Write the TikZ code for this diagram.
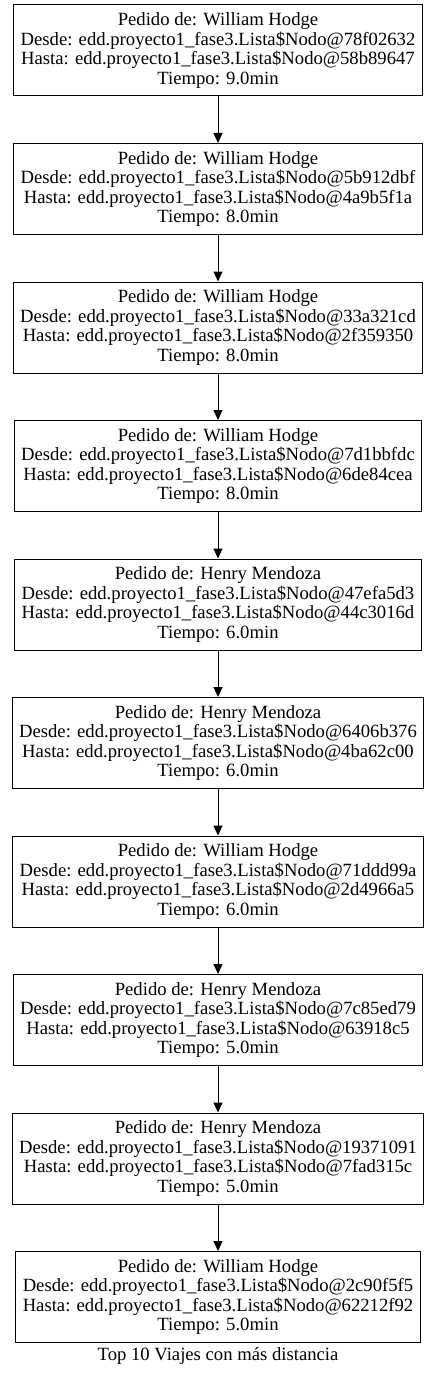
\documentclass[tikz,border=0pt]{standalone}
\usepackage{fontspec}
\usepackage{xcolor}
\usepackage{tikz}
\usetikzlibrary{arrows.meta}
\setmainfont{Liberation Serif}
\tikzset{tripbox/.style={draw, rectangle, line width=1pt, align=center, inner xsep=7pt, minimum height=91pt, font=\fontsize{18.67pt}{19.5pt}\selectfont}}
\tikzset{tripedge/.style={-{Triangle[length=10pt, width=9pt]}, line width=1pt}}

\begin{document}
\begin{tikzpicture}[x=1pt, y=1pt]%
\useasboundingbox (0, 0) rectangle (436, -1380);%
\node[tripbox] (v1) at (218, -50.5) {Pedido de: William Hodge\\Desde: edd.proyecto1\_fase3.Lista\$Nodo@78f02632\\Hasta: edd.proyecto1\_fase3.Lista\$Nodo@58b89647\\Tiempo: 9.0min};%
\node[tripbox] (v2) at (218, -189.0) {Pedido de: William Hodge\\Desde: edd.proyecto1\_fase3.Lista\$Nodo@5b912dbf\\Hasta: edd.proyecto1\_fase3.Lista\$Nodo@4a9b5f1a\\Tiempo: 8.0min};%
\node[tripbox] (v3) at (218, -327.5) {Pedido de: William Hodge\\Desde: edd.proyecto1\_fase3.Lista\$Nodo@33a321cd\\Hasta: edd.proyecto1\_fase3.Lista\$Nodo@2f359350\\Tiempo: 8.0min};%
\node[tripbox] (v4) at (218, -466.0) {Pedido de: William Hodge\\Desde: edd.proyecto1\_fase3.Lista\$Nodo@7d1bbfdc\\Hasta: edd.proyecto1\_fase3.Lista\$Nodo@6de84cea\\Tiempo: 8.0min};%
\node[tripbox] (v5) at (218, -604.5) {Pedido de: Henry Mendoza\\Desde: edd.proyecto1\_fase3.Lista\$Nodo@47efa5d3\\Hasta: edd.proyecto1\_fase3.Lista\$Nodo@44c3016d\\Tiempo: 6.0min};%
\node[tripbox] (v6) at (218, -743.0) {Pedido de: Henry Mendoza\\Desde: edd.proyecto1\_fase3.Lista\$Nodo@6406b376\\Hasta: edd.proyecto1\_fase3.Lista\$Nodo@4ba62c00\\Tiempo: 6.0min};%
\node[tripbox] (v7) at (218, -881.5) {Pedido de: William Hodge\\Desde: edd.proyecto1\_fase3.Lista\$Nodo@71ddd99a\\Hasta: edd.proyecto1\_fase3.Lista\$Nodo@2d4966a5\\Tiempo: 6.0min};%
\node[tripbox] (v8) at (218, -1020.0) {Pedido de: Henry Mendoza\\Desde: edd.proyecto1\_fase3.Lista\$Nodo@7c85ed79\\Hasta: edd.proyecto1\_fase3.Lista\$Nodo@63918c5\\Tiempo: 5.0min};%
\node[tripbox] (v9) at (218, -1158.5) {Pedido de: Henry Mendoza\\Desde: edd.proyecto1\_fase3.Lista\$Nodo@19371091\\Hasta: edd.proyecto1\_fase3.Lista\$Nodo@7fad315c\\Tiempo: 5.0min};%
\node[tripbox] (v10) at (218, -1297.0) {Pedido de: William Hodge\\Desde: edd.proyecto1\_fase3.Lista\$Nodo@2c90f5f5\\Hasta: edd.proyecto1\_fase3.Lista\$Nodo@62212f92\\Tiempo: 5.0min};%
\node[font=\fontsize{18.67pt}{19.5pt}\selectfont] (titulo) at (218, -1356) {Top 10 Viajes con más distancia};%
\draw[tripedge] (v1) -- (v2);%
\draw[tripedge] (v2) -- (v3);%
\draw[tripedge] (v3) -- (v4);%
\draw[tripedge] (v4) -- (v5);%
\draw[tripedge] (v5) -- (v6);%
\draw[tripedge] (v6) -- (v7);%
\draw[tripedge] (v7) -- (v8);%
\draw[tripedge] (v8) -- (v9);%
\draw[tripedge] (v9) -- (v10);%
\end{tikzpicture}
\end{document}
